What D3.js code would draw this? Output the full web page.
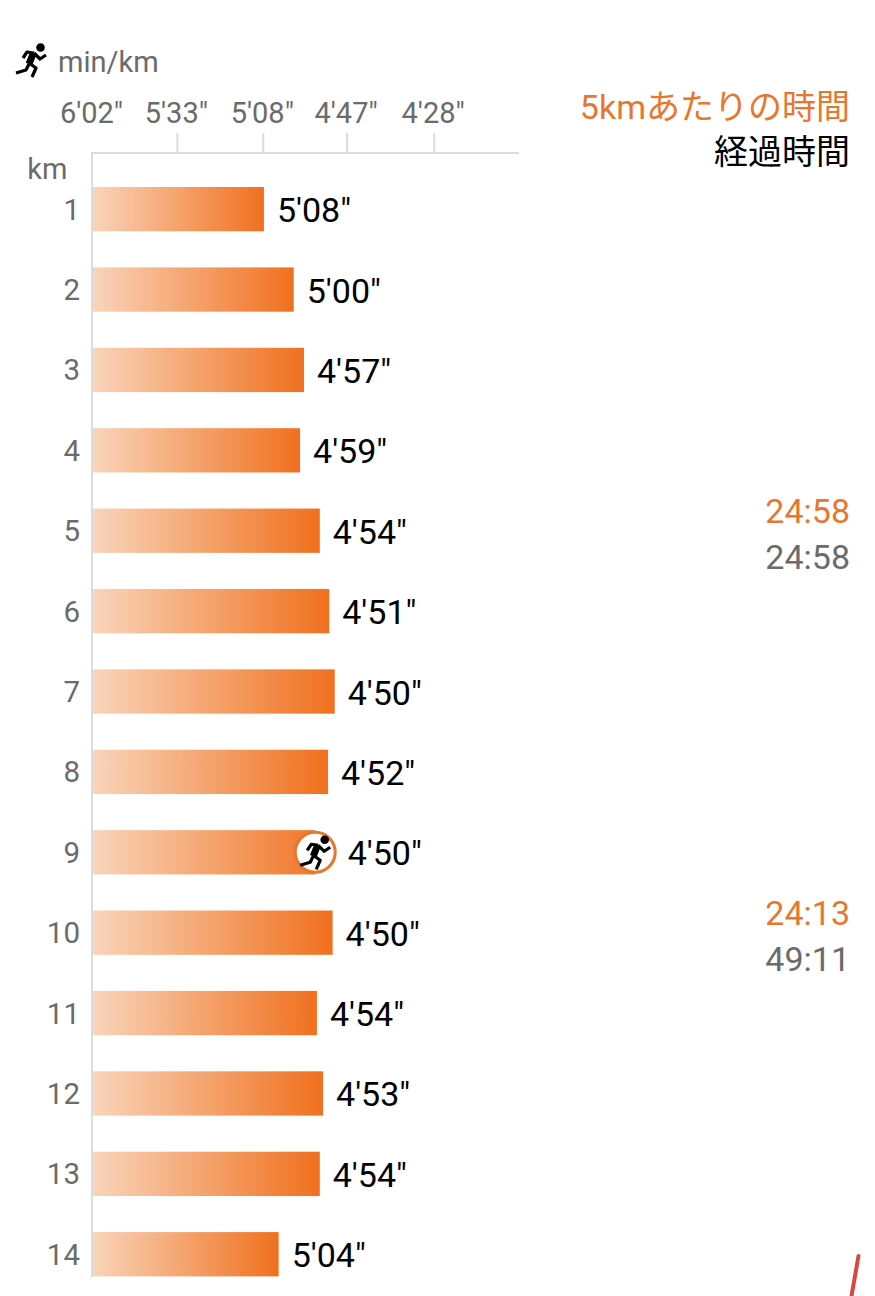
<!DOCTYPE html>
<html><head><meta charset="utf-8">
<script src="https://cdn.jsdelivr.net/npm/d3@7"></script>
<style>html,body{margin:0;padding:0;background:#fff}svg{display:block}text{font-family:Roboto,"Noto Sans CJK JP",sans-serif}</style>
</head><body><svg id="c" width="875" height="1296"></svg>
<script>
const kms=[1,2,3,4,5,6,7,8,9,10,11,12,13,14];
const paceSeconds=[307.7,299.9,297.3,298.3,293.4,291.1,289.8,291.4,289.8,290.3,294.1,292.6,293.4,303.8];
const paceLabels=["5'08\"","5'00\"","4'57\"","4'59\"","4'54\"","4'51\"","4'50\"","4'52\"","4'50\"","4'50\"","4'54\"","4'53\"","4'54\"","5'04\""];
const tickSeconds=[362,333,308,287,268];
const tickLabels=["6'02\"","5'33\"","5'08\"","4'47\"","4'28\""];
const splitKms=[5,10];
const splitTimes=["24:58","24:13"];
const elapsedTimes=["24:58","49:11"];
const currentKm=9;

const svg=d3.select("#c");
const orange="#e8772e", gray="#6b6b6b", line="#dcdcdc";
const x=d3.scaleLinear().domain([1/362,1/268]).range([92,433.7]);
const px=s=>x(1/s);
const y=d3.scaleBand().domain(kms).range([187,1232+44.4]).paddingInner(0.449).paddingOuter(0);

const cy=y(currentKm)+y.bandwidth()/2, cx=px(paceSeconds[currentKm-1])-19.5;
const defs=svg.append("defs");
const grad=defs.append("linearGradient").attr("id","g");
grad.append("stop").attr("offset","0").attr("stop-color","#f9d5bb");
grad.append("stop").attr("offset","1").attr("stop-color","#f0701e");
defs.append("clipPath").attr("id","cur").append("rect").attr("x",0).attr("y",0).attr("width",cx).attr("height",1296);

// bars
svg.append("g").selectAll("rect").data(kms).join("rect")
 .attr("x",92).attr("y",d=>y(d)).attr("height",y.bandwidth())
 .attr("width",(d,i)=>px(paceSeconds[i])-92).attr("fill","url(#g)")
 .attr("clip-path",d=>d===currentKm?"url(#cur)":null);

// axes lines
const axis=d3.axisTop(d3.scaleLinear().domain(x.domain()).range(x.range()))
 .tickValues(tickSeconds.map(s=>1/s)).tickSizeOuter(0).tickSizeInner(20).tickPadding(6)
 .tickFormat((d,i)=>tickLabels[i]);
const ga=svg.append("g").attr("transform","translate(0,153)").call(axis);
ga.select(".domain").remove();
ga.selectAll("line").attr("stroke",line).attr("stroke-width",2).filter((d,i)=>i===0).remove();
ga.selectAll("text").attr("fill",gray).attr("font-size",29).attr("font-family",null).attr("x",-1).attr("y",-30).attr("dy",0);
svg.append("line").attr("x1",91).attr("x2",519).attr("y1",153).attr("y2",153).attr("stroke",line).attr("stroke-width",2);
svg.append("line").attr("x1",92).attr("x2",92).attr("y1",152).attr("y2",1277).attr("stroke",line).attr("stroke-width",2);

// km labels
svg.append("g").selectAll("text").data(kms).join("text")
 .attr("x",80).attr("y",d=>y(d)+y.bandwidth()/2+10.5).attr("text-anchor","end")
 .attr("font-size",29.5).attr("fill",gray).text(d=>d);
svg.append("text").attr("x",67.5).attr("y",179).attr("text-anchor","end").attr("font-size",29).attr("fill",gray).text("km");
svg.append("text").attr("x",58).attr("y",71.5).attr("font-size",29).attr("fill",gray).text("min/km");

// value labels
svg.append("g").selectAll("text").data(kms).join("text")
 .attr("x",(d,i)=>px(paceSeconds[i])+13).attr("y",d=>y(d)+y.bandwidth()/2+13)
 .attr("font-size",34).attr("fill","#000").text((d,i)=>paceLabels[i]);

// runner icon
function runner(g){
 g.append("circle").attr("cx",40.5).attr("cy",47.5).attr("r",4.3).attr("fill","#000");
 const limbs=[[[33,54],[29,64]],[[34,53],[40,59],[46,55]],[[34,53],[27,52],[23,58]],[[29,63],[36,68],[32,77]],[[29,64],[26,70],[16,73]]];
 const l=d3.line();
 g.selectAll("path").data(limbs).join("path").attr("d",l).attr("fill","none").attr("stroke","#000")
  .attr("stroke-width",(d,i)=>i===0?7:3.2).attr("stroke-linejoin","round");
}
runner(svg.append("g"));
svg.append("circle").attr("cx",cx).attr("cy",cy).attr("r",20).attr("fill","#fff").attr("stroke",orange).attr("stroke-width",3);
runner(svg.append("g").attr("transform",`translate(${cx-31},${cy-60})`));

// right column
const R=850;
svg.append("text").attr("x",R).attr("y",118.5).attr("text-anchor","end").attr("font-size",34).attr("fill",orange).text("5kmあたりの時間");
svg.append("text").attr("x",R).attr("y",163.5).attr("text-anchor","end").attr("font-size",34).attr("fill","#000").text("経過時間");
splitKms.forEach((k,i)=>{
 const c=y(k)+y.bandwidth()/2;
 svg.append("text").attr("x",R).attr("y",c-8).attr("text-anchor","end").attr("font-size",34).attr("fill",orange).text(splitTimes[i]);
 svg.append("text").attr("x",R).attr("y",c+38).attr("text-anchor","end").attr("font-size",34).attr("fill",gray).text(elapsedTimes[i]);
});
// stray red stroke at the screenshot edge
svg.append("path").attr("d","M858.5,1256L851.5,1296").attr("stroke","#dc4545").attr("stroke-width",4).attr("stroke-linecap","round");
</script></body></html>
